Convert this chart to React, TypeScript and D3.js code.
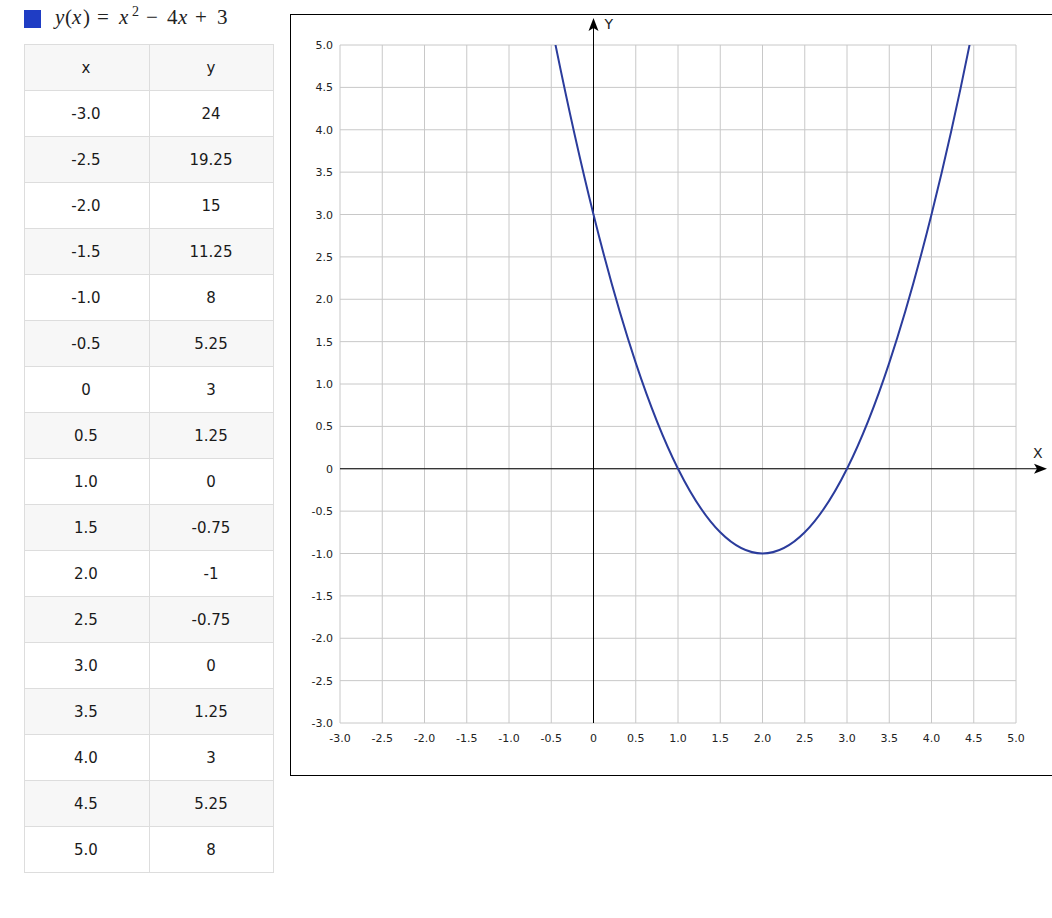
import * as d3 from 'd3';
import { useEffect, useRef } from 'react';

// table values for y(x) = x^2 - 4x + 3
const xValues = [-3, -2.5, -2, -1.5, -1, -0.5, 0, 0.5, 1, 1.5, 2, 2.5, 3, 3.5, 4, 4.5, 5];
const yValues = [24, 19.25, 15, 11.25, 8, 5.25, 3, 1.25, 0, -0.75, -1, -0.75, 0, 1.25, 3, 5.25, 8];
const gridTicks = [-3, -2.5, -2, -1.5, -1, -0.5, 0, 0.5, 1, 1.5, 2, 2.5, 3, 3.5, 4, 4.5, 5];
const tableHeader = ['x', 'y'];

const fmtTick = (v: number) => (v === 0 ? '0' : v.toFixed(1));

export default function App() {
  const ref = useRef<SVGSVGElement>(null);

  useEffect(() => {
    const svg = d3.select(ref.current);
    svg.selectAll('*').remove();

    // legend + formula
    svg.append('rect').attr('x', 24).attr('y', 10).attr('width', 17).attr('height', 18).attr('fill', '#1f3dc4');
    const f = svg
      .append('text')
      .attr('y', 24)
      .attr('font-family', '"Liberation Serif", serif')
      .attr('font-size', 21)
      .attr('fill', '#222');
    const parts: [string, number, boolean][] = [
      ['y', 55, true],
      ['(', 65, false],
      ['x', 72, true],
      [')', 83, false],
      ['=', 97, false],
      ['x', 119, true],
      ['−', 146, false],
      ['4', 167, false],
      ['x', 178, true],
      ['+', 195, false],
      ['3', 217, false],
    ];
    parts.forEach(([t, x, it]) => {
      f.append('tspan').attr('x', x).attr('font-style', it ? 'italic' : 'normal').text(t);
    });
    svg
      .append('text')
      .attr('x', 132)
      .attr('y', 16)
      .attr('font-family', '"Liberation Serif", serif')
      .attr('font-size', 14)
      .attr('fill', '#222')
      .text('2');

    // table
    const tx = 24.5;
    const colW = 125;
    const rowH = 46;
    const ty = 44.5;
    const rows = [tableHeader, ...xValues.map((x, i) => [fmtTick(x), String(yValues[i])])];
    const t = svg.append('g');
    rows.forEach((r, i) => {
      t.append('rect')
        .attr('x', tx)
        .attr('y', ty + i * rowH)
        .attr('width', colW * 2 - 1)
        .attr('height', rowH)
        .attr('fill', i % 2 === 0 ? '#f7f7f7' : '#fff')
        .attr('stroke', '#ddd');
      t.append('line')
        .attr('x1', tx + colW)
        .attr('x2', tx + colW)
        .attr('y1', ty + i * rowH)
        .attr('y2', ty + (i + 1) * rowH)
        .attr('stroke', '#ddd');
      r.forEach((c, j) => {
        t.append('text')
          .attr('x', tx + colW * j + colW / 2 - 1)
          .attr('y', ty + i * rowH + rowH / 2 + 5)
          .attr('text-anchor', 'middle')
          .attr('font-family', '"DejaVu Sans", sans-serif')
          .attr('font-size', 15)
          .attr('fill', '#1a1a1a')
          .text(c);
      });
    });

    // chart frame
    svg.append('rect').attr('x', 290.5).attr('y', 14.5).attr('width', 790).attr('height', 761).attr('fill', 'none').attr('stroke', '#000');

    const xScale = d3.scaleLinear().domain([-3, 5]).range([340, 1016]);
    const yScale = d3.scaleLinear().domain([-3, 5]).range([723, 45]);

    const grid = svg.append('g').attr('stroke', '#c8c8c8').attr('stroke-width', 1);
    gridTicks.forEach((v) => {
      grid.append('line').attr('x1', xScale(v)).attr('x2', xScale(v)).attr('y1', yScale(-3)).attr('y2', yScale(5));
      grid.append('line').attr('y1', yScale(v)).attr('y2', yScale(v)).attr('x1', xScale(-3)).attr('x2', xScale(5));
    });

    const ticks = svg.append('g').attr('font-family', '"DejaVu Sans", sans-serif').attr('font-size', 11).attr('fill', '#222');
    gridTicks.forEach((v) => {
      ticks.append('text').attr('x', xScale(v)).attr('y', yScale(-3) + 19).attr('text-anchor', 'middle').text(fmtTick(v));
      ticks.append('text').attr('x', xScale(-3) - 7).attr('y', yScale(v) + 4).attr('text-anchor', 'end').text(fmtTick(v));
    });

    // axes with arrows
    const x0 = xScale(0);
    const y0 = yScale(0);
    svg.append('line').attr('x1', x0).attr('x2', x0).attr('y1', yScale(-3)).attr('y2', 22).attr('stroke', '#000');
    svg.append('path').attr('d', `M${x0},18L${x0 + 5},31L${x0},28L${x0 - 5},31Z`).attr('fill', '#000');
    svg.append('line').attr('x1', xScale(-3)).attr('x2', 1042).attr('y1', y0).attr('y2', y0).attr('stroke', '#000');
    svg.append('path').attr('d', `M1047,${y0}L1034,${y0 - 5}L1037,${y0}L1034,${y0 + 5}Z`).attr('fill', '#000');
    svg.append('text').attr('x', x0 + 11).attr('y', 29).attr('font-family', '"DejaVu Sans", sans-serif').attr('font-size', 14).attr('fill', '#222').text('Y');
    svg.append('text').attr('x', 1033).attr('y', y0 - 11).attr('font-family', '"DejaVu Sans", sans-serif').attr('font-size', 14).attr('fill', '#222').text('X');

    // curve
    svg
      .append('clipPath')
      .attr('id', 'plot-clip')
      .append('rect')
      .attr('x', xScale(-3))
      .attr('y', yScale(5))
      .attr('width', xScale(5) - xScale(-3))
      .attr('height', yScale(-3) - yScale(5));
    const line = d3
      .line<number>()
      .x((_, i) => xScale(xValues[i]))
      .y((d) => yScale(d))
      .curve(d3.curveNatural);
    svg
      .append('path')
      .datum(yValues)
      .attr('clip-path', 'url(#plot-clip)')
      .attr('fill', 'none')
      .attr('stroke', '#2b3c9c')
      .attr('stroke-width', 2)
      .attr('d', line);
  }, []);

  return (
    <svg
      ref={ref}
      width={1052}
      height={918}
      style={{ position: 'absolute', left: 0, top: 0, display: 'block', background: '#fff' }}
    />
  );
}
